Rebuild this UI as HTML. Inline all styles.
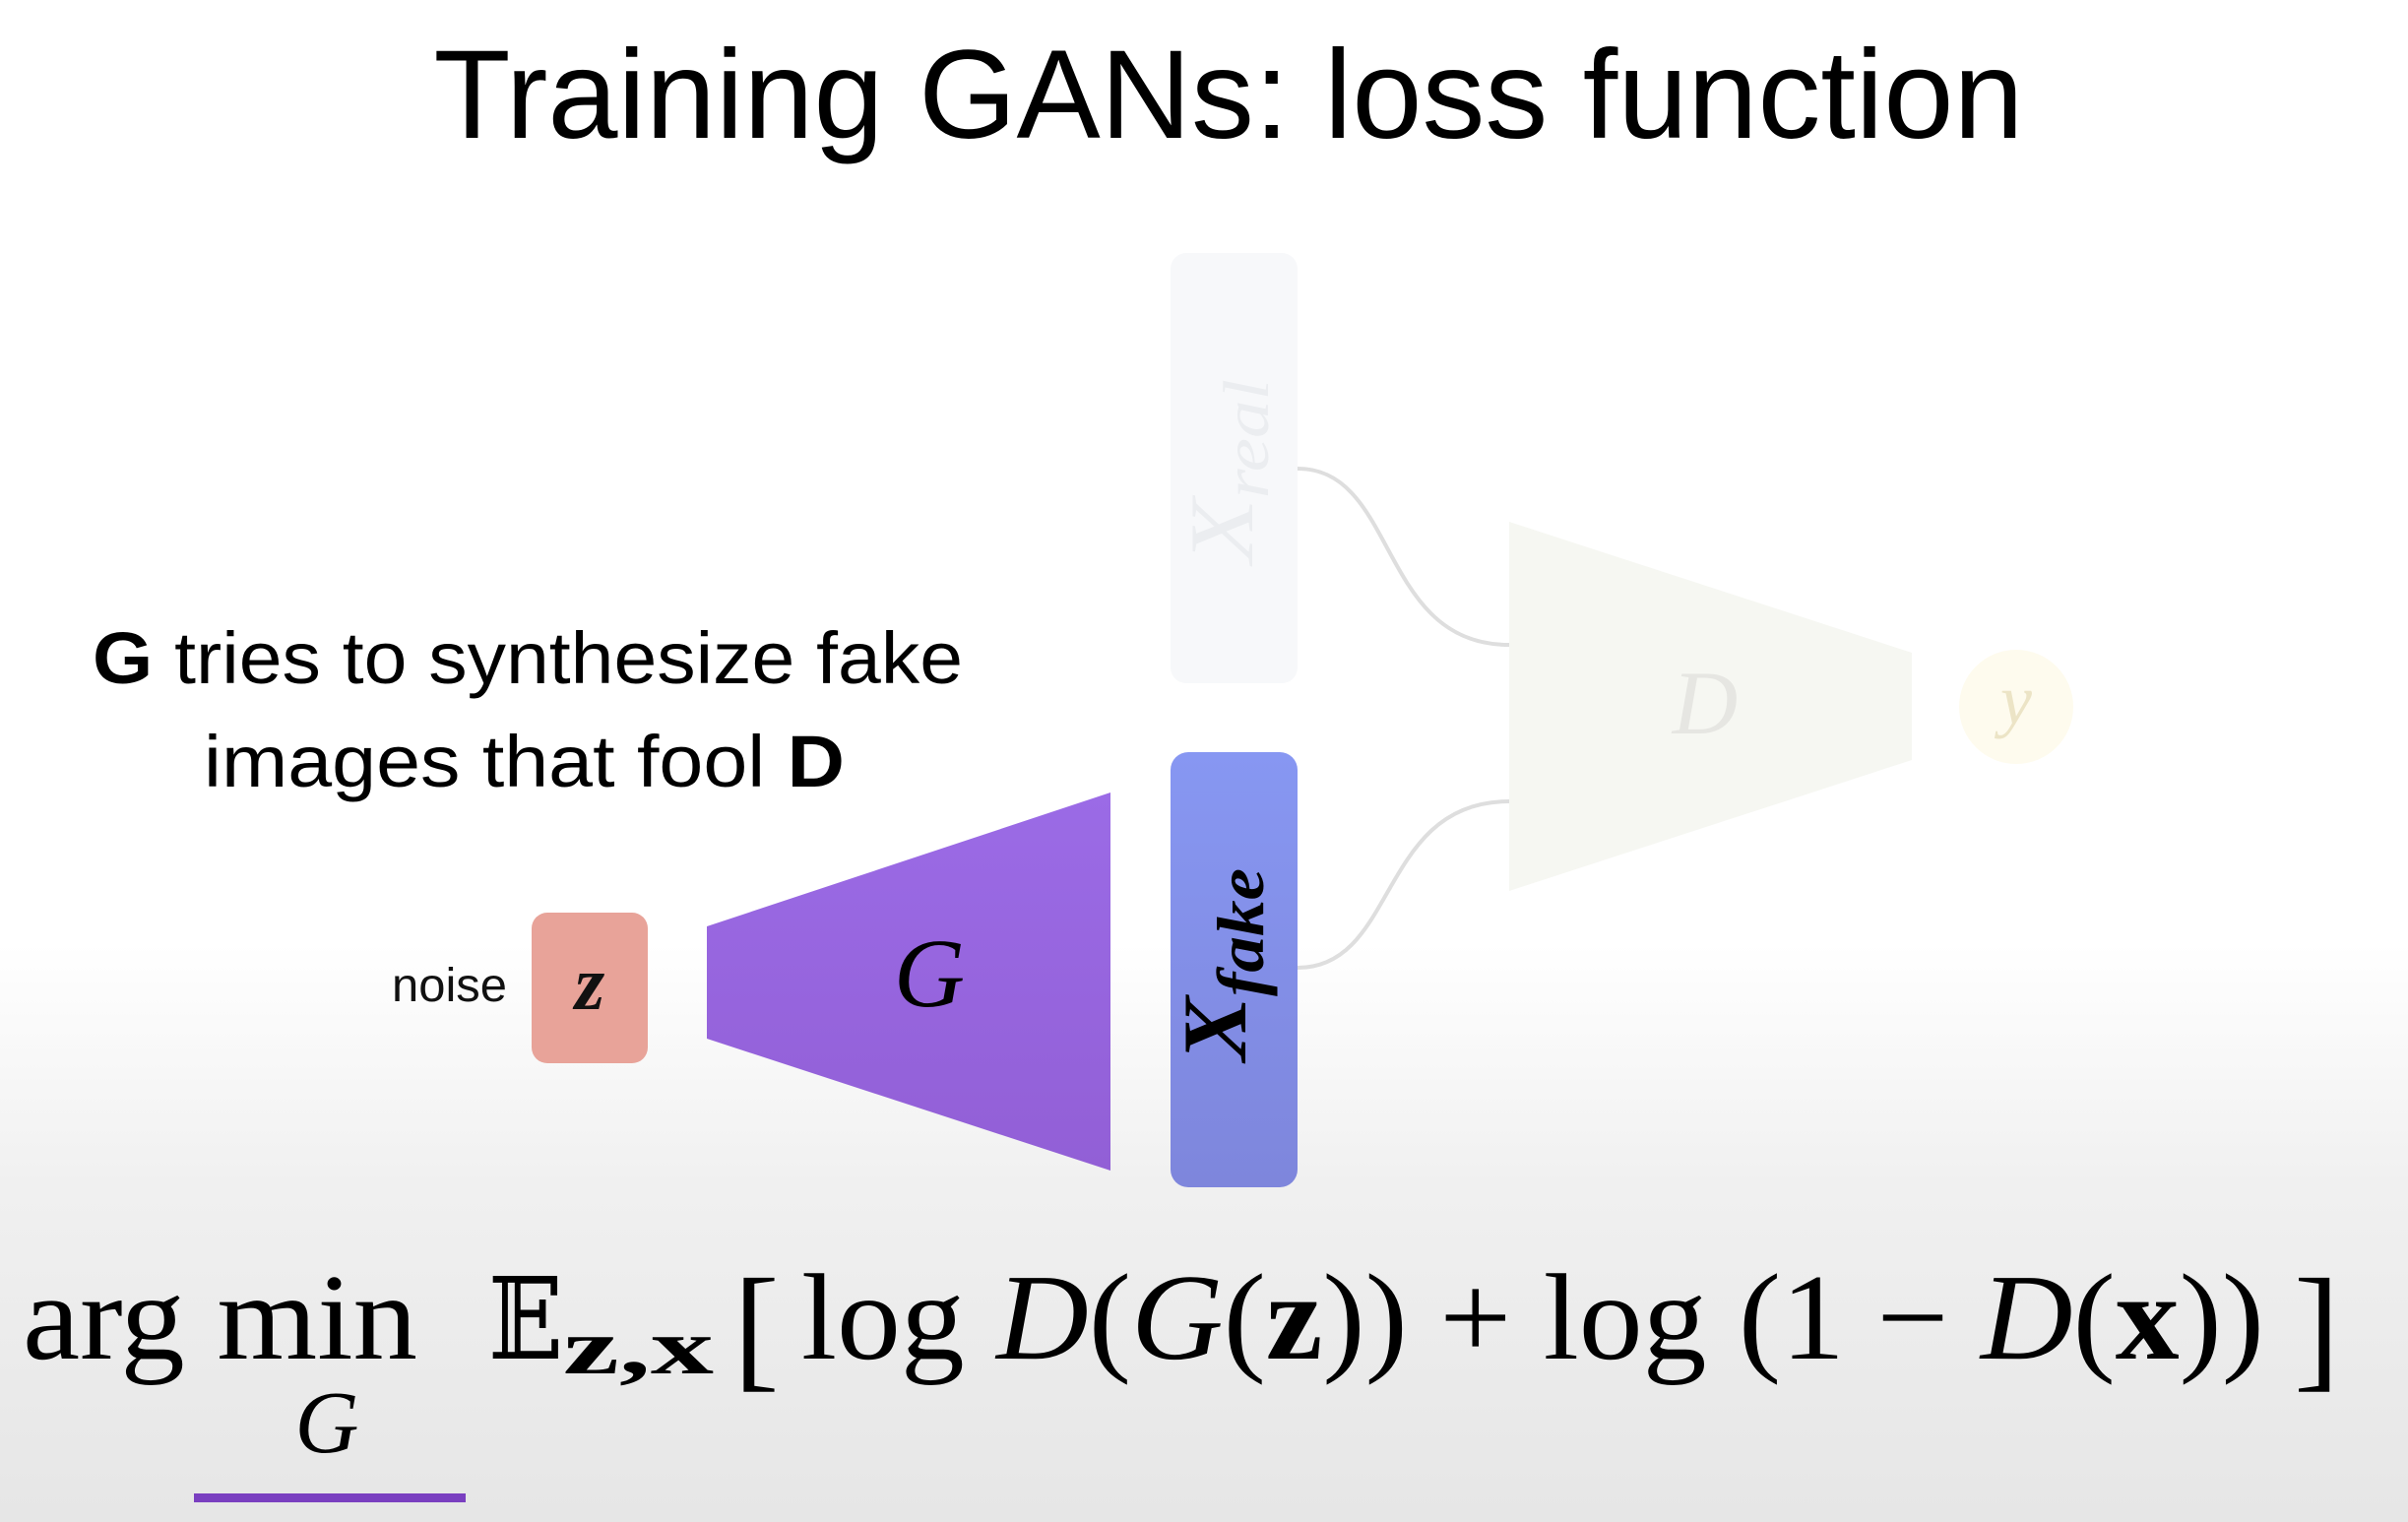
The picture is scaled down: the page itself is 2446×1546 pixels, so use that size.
<!DOCTYPE html>
<html><head><meta charset="utf-8"><style>
html,body{margin:0;padding:0;width:2446px;height:1546px;overflow:hidden;background:#fff}
svg{display:block}
</style></head><body>
<svg width="2446" height="1546" viewBox="0 0 2446 1546" xmlns="http://www.w3.org/2000/svg">
<defs>
<linearGradient id="bg" x1="0" y1="0" x2="0" y2="1">
<stop offset="0" stop-color="#ffffff"/><stop offset="0.62" stop-color="#ffffff"/><stop offset="0.78" stop-color="#f0f0f0"/><stop offset="1" stop-color="#e6e6e6"/>
</linearGradient>
<linearGradient id="fk" x1="0" y1="0" x2="0" y2="1"><stop offset="0" stop-color="#8797f2"/><stop offset="1" stop-color="#7e86dc"/></linearGradient>
<linearGradient id="gg" x1="0" y1="0" x2="0" y2="1"><stop offset="0" stop-color="#9b6be6"/><stop offset="1" stop-color="#925fd6"/></linearGradient>
</defs>
<rect width="2446" height="1546" fill="url(#bg)"/>
<text x="1248" y="140" text-anchor="middle" font-family="Liberation Sans, sans-serif" font-size="128" textLength="1615" lengthAdjust="spacingAndGlyphs" fill="#000">Training GANs: loss function</text>

<rect x="1189" y="257" width="129" height="437" rx="16" fill="#f7f8fa"/>
<text transform="translate(1272,572) rotate(-90)" font-family="Liberation Serif, serif" font-style="italic" font-size="92" textLength="187" lengthAdjust="spacingAndGlyphs" fill="#ebedf0">X<tspan font-size="66" dy="16">real</tspan></text>

<path d="M1318 476 C1420 476,1400 655,1533 655" fill="none" stroke="#dedede" stroke-width="4"/>
<path d="M1318 983 C1420 983,1400 814,1533 814" fill="none" stroke="#dedede" stroke-width="4"/>

<polygon points="1533,530 1942,663 1942,772 1533,905" fill="#f6f7f2"/>
<text x="1732" y="745" text-anchor="middle" font-family="Liberation Serif, serif" font-style="italic" font-size="92" fill="#e6e6e2">D</text>
<circle cx="2048" cy="718" r="58" fill="#fefbee"/>
<text x="2048" y="735" text-anchor="middle" font-family="Liberation Serif, serif" font-style="italic" font-size="72" fill="#ece4c6">y</text>

<text x="94" y="694" font-family="Liberation Sans, sans-serif" font-size="74" textLength="884" lengthAdjust="spacingAndGlyphs" fill="#000"><tspan font-weight="bold">G</tspan> tries to synthesize fake</text>
<text x="207" y="799" font-family="Liberation Sans, sans-serif" font-size="74" textLength="651" lengthAdjust="spacingAndGlyphs" fill="#000">images that fool <tspan font-weight="bold">D</tspan></text>

<text x="398" y="1017" font-family="Liberation Sans, sans-serif" font-size="48" textLength="117" lengthAdjust="spacingAndGlyphs" fill="#111">noise</text>
<rect x="540" y="927" width="118" height="153" rx="16" fill="#e8a399"/>
<text x="599" y="1025" text-anchor="middle" font-family="Liberation Serif, serif" font-style="italic" font-weight="bold" font-size="78" fill="#111">z</text>

<polygon points="718,941 1128,805 1128,1189 718,1055" fill="url(#gg)"/>
<text x="944" y="1022" text-anchor="middle" font-family="Liberation Serif, serif" font-style="italic" font-size="100" fill="#000">G</text>

<rect x="1189" y="764" width="129" height="442" rx="18" fill="url(#fk)"/>
<text transform="translate(1265,1078) rotate(-90)" font-family="Liberation Serif, serif" font-style="italic" font-weight="bold" font-size="92" textLength="196" lengthAdjust="spacingAndGlyphs" fill="#000">X<tspan font-size="68" dy="18">fake</tspan></text>

<g font-family="Liberation Serif, 'DejaVu Serif', serif" fill="#000">
<text x="23" y="1380" font-size="125" textLength="401" lengthAdjust="spacingAndGlyphs">arg min</text>
<text x="332" y="1475" text-anchor="middle" font-size="90" font-style="italic">G</text>
<text x="496" y="1380" font-family="DejaVu Serif, serif" font-size="115" textLength="76" lengthAdjust="spacingAndGlyphs">𝔼</text>
<text x="572" y="1395" font-size="80" font-weight="bold" textLength="153" lengthAdjust="spacingAndGlyphs">z,x</text>
<text x="745" y="1395" font-size="140" font-weight="normal">[</text>
<text x="814" y="1380" font-size="125" textLength="1486" lengthAdjust="spacingAndGlyphs">log <tspan font-style="italic">D</tspan>(<tspan font-style="italic">G</tspan>(<tspan font-weight="bold">z</tspan>)) + log (1 − <tspan font-style="italic">D</tspan>(<tspan font-weight="bold">x</tspan>))</text>
<text x="2330" y="1395" font-size="140">]</text>
</g>
<rect x="197" y="1517" width="276" height="9" fill="#7a3fc0"/>
</svg>
</body></html>
